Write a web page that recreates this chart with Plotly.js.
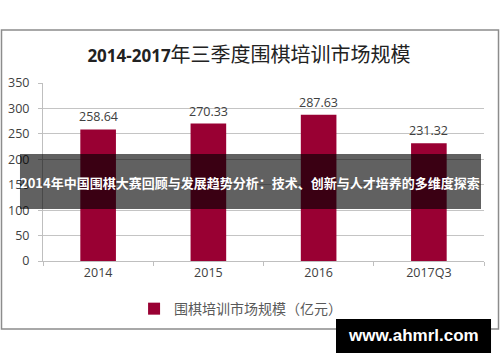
<!DOCTYPE html>
<html>
<head>
<meta charset="utf-8">
<script src="https://cdn.plot.ly/plotly-3.0.1.min.js"></script>
<style>
html,body{margin:0;padding:0;background:#fff;}
#chart{width:500px;height:362px;}
</style>
</head>
<body>
<div id="chart"></div>
<script>
var categories = ["2014", "2015", "2016", "2017Q3"];
var values = [258.64, 270.33, 287.63, 231.32];
var valueLabels = ["258.64", "270.33", "287.63", "231.32"];
var seriesName = "围棋培训市场规模（亿元）";
var yTicks = [0, 50, 100, 150, 200, 250, 300, 350];
var chartTitle = "<b><span style=\"font-family:'Open Sans';font-size:17px\">2014-2017</span></b>年三季度围棋培训市场规模";
var bannerText = "2014年中国围棋大赛回顾与发展趋势分析：技术、创新与人才培养的多维度探索";
var watermarkText = "www.ahmrl.com";

var FONT = "'Open Sans', 'Noto Sans CJK SC', sans-serif";
var BAR = "#990033";

var trace = {
  type: "bar",
  x: categories,
  y: values,
  name: seriesName,
  marker: {color: BAR},
  hoverinfo: "skip",
  showlegend: true
};

var annotations = categories.map(function(c, i){
  return {
    x: i, y: values[i], xref: "x", yref: "y",
    text: valueLabels[i], showarrow: false,
    yanchor: "bottom", yshift: 2,
    font: {family: FONT, size: 12.5, color: "#404040"}
  };
});
annotations.push({
  xref: "paper", yref: "paper", x: 0.4705, y: 0.4438,
  xanchor: "center", yanchor: "middle", showarrow: false,
  text: "<b>" + bannerText + "</b>",
  font: {family: "'Noto Sans CJK SC', sans-serif", size: 13, color: "#ffffff"}
});
annotations.push({
  xref: "paper", yref: "paper", x: 0.8401, y: -0.4213,
  xanchor: "center", yanchor: "middle", showarrow: false,
  text: "<b>" + watermarkText + "</b>",
  font: {family: "'Liberation Sans', Arial, sans-serif", size: 17, color: "#ffffff"}
});

var shapes = [
  {type: "rect", xref: "paper", yref: "paper", x0: -0.0941, x1: 1.0329, y0: -0.382, y1: 1.2978,
   line: {color: "#8c8c8c", width: 1.5}, fillcolor: "rgba(0,0,0,0)", layer: "below"},
  {type: "rect", xref: "paper", yref: "paper", x0: -0.0522, x1: 0.9932, y0: 0.2921, y1: 0.6011,
   line: {width: 0}, fillcolor: "rgba(0,0,0,0.62)", layer: "above"},
  {type: "rect", xref: "paper", yref: "paper", x0: 0.6644, x1: 1.0159, y0: -0.5169, y1: -0.3258,
   line: {width: 0}, fillcolor: "#000000", layer: "above"}
];

var layout = {
  width: 500, height: 362,
  margin: {l: 43, r: 16, t: 83, b: 101, pad: 0},
  paper_bgcolor: "#ffffff", plot_bgcolor: "#ffffff",
  font: {family: FONT, color: "#404040"},
  title: {
    text: chartTitle,
    x: 0.498, xref: "container", xanchor: "center",
    y: 0.848, yref: "container", yanchor: "middle",
    font: {family: "'Noto Sans CJK SC', sans-serif", size: 20, color: "#222222"}
  },
  bargap: 0.677,
  xaxis: {
    type: "category",
    range: [-0.5, categories.length - 0.5],
    showgrid: false, showline: true, linecolor: "#bfbfbf", linewidth: 1,
    ticks: "outside", tickson: "boundaries", ticklen: 4, tickcolor: "#bfbfbf",
    tickangle: 0,
    tickfont: {family: FONT, size: 12.5, color: "#404040"},
    fixedrange: true
  },
  yaxis: {
    range: [0, 350], tickvals: yTicks, ticktext: yTicks.map(String),
    showgrid: true, gridcolor: "#c4c4c4", gridwidth: 1,
    showline: true, linecolor: "#bfbfbf", linewidth: 1,
    ticks: "outside", ticklen: 4, tickcolor: "#bfbfbf",
    ticklabelstandoff: 6,
    zeroline: false,
    tickfont: {family: FONT, size: 12.5, color: "#404040"},
    fixedrange: true
  },
  showlegend: true,
  legend: {
    orientation: "h", x: 0.448, xanchor: "center", y: -0.27, yanchor: "middle",
    font: {family: "'Noto Sans CJK SC', sans-serif", size: 14, color: "#595959"},
    bgcolor: "rgba(0,0,0,0)"
  },
  annotations: annotations,
  shapes: shapes
};

Plotly.newPlot("chart", [trace], layout, {displayModeBar: false, staticPlot: true});
</script>
</body>
</html>
